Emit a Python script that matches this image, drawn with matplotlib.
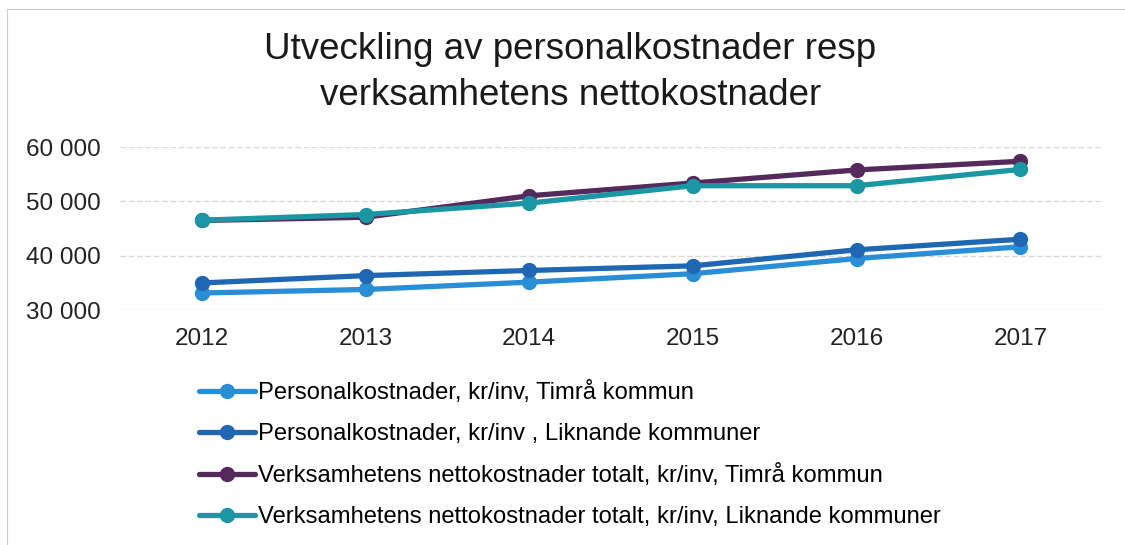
import matplotlib.pyplot as plt
from matplotlib.lines import Line2D

plt.rcParams['font.family'] = ['Liberation Sans', 'DejaVu Sans']

years = ['2012', '2013', '2014', '2015', '2016', '2017']
pers_timra = [33150, 33800, 35150, 36700, 39500, 41650]
pers_likn = [35000, 36350, 37300, 38150, 41100, 43050]
netto_timra = [46500, 47100, 51050, 53400, 55800, 57400]
netto_likn = [46550, 47600, 49700, 52900, 52900, 55900]

labels = ['Personalkostnader, kr/inv, Timrå kommun',
          'Personalkostnader, kr/inv , Liknande kommuner',
          'Verksamhetens nettokostnader totalt, kr/inv, Timrå kommun',
          'Verksamhetens nettokostnader totalt, kr/inv, Liknande kommuner']
colors = ['#2a8ed6', '#1f67b3', '#55295c', '#1b96a3']
yticks = [30000, 40000, 50000, 60000]

fig = plt.figure(figsize=(11.25, 5.45), dpi=100)
ax = fig.add_axes([0.1067, 0.431, 0.873, 0.299])

x = range(len(years))
series = [pers_timra, pers_likn, netto_timra, netto_likn]
handles = []
for vals, c, lab in zip(series, colors, labels):
    h, = ax.plot(x, vals, color=c, lw=3.8, marker='o', ms=10, label=lab,
                 solid_capstyle='round')
    handles.append(h)

ax.set_xlim(-0.5, 5.5)
ax.set_ylim(30000, 60000)
ax.set_xticks(list(x))
ax.set_xticklabels(years, fontsize=17.5, color='#222222')
ax.set_yticks(yticks)
ax.set_yticklabels([f'{v:,}'.replace(',', ' ') for v in yticks], fontsize=17.5, color='#222222')
ax.tick_params(axis='x', length=0, pad=13)
ax.tick_params(axis='y', length=0, pad=14)
ax.grid(axis='y', color='#d9d9d9', lw=1, ls=(0, (4, 2)))
ax.set_axisbelow(True)
for s in ax.spines.values():
    s.set_visible(False)

fig.text(0.507, 0.867, 'Utveckling av personalkostnader resp\nverksamhetens nettokostnader',
         ha='center', va='center', fontsize=26.5, linespacing=1.38, color='#1a1a1a')

fig.legend(handles=handles, loc='upper left', bbox_to_anchor=(0.177, 0.301),
           frameon=False, fontsize=17.1, handlelength=2.36, handletextpad=0.1,
           labelspacing=0.8, borderaxespad=0, borderpad=0)

# faint frame of the scanned chart
fig.add_artist(Line2D([7 / 1125, 7 / 1125], [0, 1 - 9 / 545], transform=fig.transFigure,
                      color='#cccccc', lw=0.8))
fig.add_artist(Line2D([7 / 1125, 1], [1 - 9 / 545, 1 - 9 / 545], transform=fig.transFigure,
                      color='#cccccc', lw=0.8))

fig.savefig('out.png', dpi=100)
